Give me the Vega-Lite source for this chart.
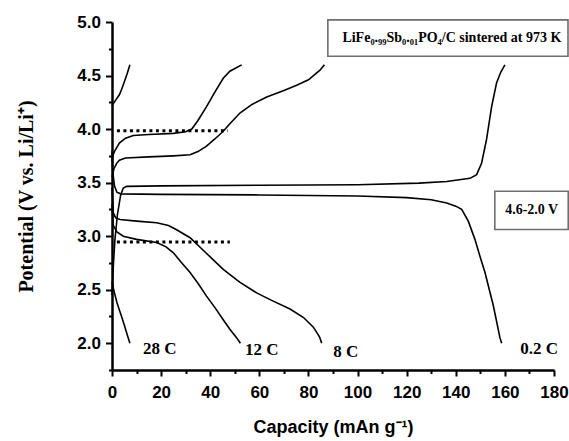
{
  "$schema": "https://vega.github.io/schema/vega-lite/v6.json",
  "width": 442,
  "height": 348,
  "autosize": "none",
  "padding": {"left": 112, "top": 22, "right": 15, "bottom": 71},
  "background": "white",
  "config": {"view": {"stroke": null}},
  "datasets": {
    "curves": [
      {"s": "c02", "i": 1, "cap": 0, "v": 2.45}, {"s": "c02", "i": 2, "cap": 0.6, "v": 2.75}, {"s": "c02", "i": 3, "cap": 1.2, "v": 2.97}, {"s": "c02", "i": 4, "cap": 2.2, "v": 3.2}, {"s": "c02", "i": 5, "cap": 3.5, "v": 3.38}, {"s": "c02", "i": 6, "cap": 4.6, "v": 3.45}, {"s": "c02", "i": 7, "cap": 6, "v": 3.465}, {"s": "c02", "i": 8, "cap": 20, "v": 3.47}, {"s": "c02", "i": 9, "cap": 60, "v": 3.475}, {"s": "c02", "i": 10, "cap": 100, "v": 3.48}, {"s": "c02", "i": 11, "cap": 125, "v": 3.495}, {"s": "c02", "i": 12, "cap": 136.3, "v": 3.51}, {"s": "c02", "i": 13, "cap": 145.8, "v": 3.54}, {"s": "c02", "i": 14, "cap": 148.5, "v": 3.575}, {"s": "c02", "i": 15, "cap": 150.5, "v": 3.68}, {"s": "c02", "i": 16, "cap": 152.5, "v": 3.9}, {"s": "c02", "i": 17, "cap": 154.6, "v": 4.21}, {"s": "c02", "i": 18, "cap": 156.6, "v": 4.43}, {"s": "c02", "i": 19, "cap": 158.3, "v": 4.53}, {"s": "c02", "i": 20, "cap": 160, "v": 4.6},
      {"s": "d02", "i": 1, "cap": 0, "v": 3.8}, {"s": "d02", "i": 2, "cap": 0.3, "v": 3.6}, {"s": "d02", "i": 3, "cap": 1, "v": 3.47}, {"s": "d02", "i": 4, "cap": 2, "v": 3.41}, {"s": "d02", "i": 5, "cap": 3.5, "v": 3.395}, {"s": "d02", "i": 6, "cap": 20, "v": 3.39}, {"s": "d02", "i": 7, "cap": 60, "v": 3.385}, {"s": "d02", "i": 8, "cap": 100, "v": 3.375}, {"s": "d02", "i": 9, "cap": 120, "v": 3.36}, {"s": "d02", "i": 10, "cap": 130, "v": 3.34}, {"s": "d02", "i": 11, "cap": 136.3, "v": 3.31}, {"s": "d02", "i": 12, "cap": 140, "v": 3.28}, {"s": "d02", "i": 13, "cap": 142.4, "v": 3.25}, {"s": "d02", "i": 14, "cap": 145.1, "v": 3.14}, {"s": "d02", "i": 15, "cap": 147.8, "v": 2.97}, {"s": "d02", "i": 16, "cap": 150, "v": 2.8}, {"s": "d02", "i": 17, "cap": 151.9, "v": 2.66}, {"s": "d02", "i": 18, "cap": 155.3, "v": 2.35}, {"s": "d02", "i": 19, "cap": 158, "v": 2.05}, {"s": "d02", "i": 20, "cap": 158.7, "v": 2.0},
      {"s": "c12", "i": 1, "cap": 0, "v": 3.7}, {"s": "c12", "i": 2, "cap": 0.5, "v": 3.76}, {"s": "c12", "i": 3, "cap": 1.2, "v": 3.8}, {"s": "c12", "i": 4, "cap": 3, "v": 3.87}, {"s": "c12", "i": 5, "cap": 5.5, "v": 3.915}, {"s": "c12", "i": 6, "cap": 8.7, "v": 3.94}, {"s": "c12", "i": 7, "cap": 15, "v": 3.95}, {"s": "c12", "i": 8, "cap": 25, "v": 3.96}, {"s": "c12", "i": 9, "cap": 30, "v": 3.975}, {"s": "c12", "i": 10, "cap": 32.5, "v": 4.0}, {"s": "c12", "i": 11, "cap": 35, "v": 4.08}, {"s": "c12", "i": 12, "cap": 38.5, "v": 4.21}, {"s": "c12", "i": 13, "cap": 42, "v": 4.35}, {"s": "c12", "i": 14, "cap": 45.3, "v": 4.475}, {"s": "c12", "i": 15, "cap": 48, "v": 4.54}, {"s": "c12", "i": 16, "cap": 52.8, "v": 4.6},
      {"s": "d12", "i": 1, "cap": 0, "v": 3.3}, {"s": "d12", "i": 2, "cap": 0.5, "v": 3.1}, {"s": "d12", "i": 3, "cap": 2, "v": 3.04}, {"s": "d12", "i": 4, "cap": 4.6, "v": 3.0}, {"s": "d12", "i": 5, "cap": 10, "v": 2.97}, {"s": "d12", "i": 6, "cap": 18.2, "v": 2.94}, {"s": "d12", "i": 7, "cap": 22, "v": 2.9}, {"s": "d12", "i": 8, "cap": 25, "v": 2.845}, {"s": "d12", "i": 9, "cap": 28, "v": 2.76}, {"s": "d12", "i": 10, "cap": 31.8, "v": 2.66}, {"s": "d12", "i": 11, "cap": 35, "v": 2.56}, {"s": "d12", "i": 12, "cap": 38.5, "v": 2.44}, {"s": "d12", "i": 13, "cap": 42, "v": 2.33}, {"s": "d12", "i": 14, "cap": 45.3, "v": 2.22}, {"s": "d12", "i": 15, "cap": 48, "v": 2.13}, {"s": "d12", "i": 16, "cap": 50.8, "v": 2.05}, {"s": "d12", "i": 17, "cap": 52.3, "v": 2.0},
      {"s": "c8", "i": 1, "cap": 0, "v": 3.55}, {"s": "c8", "i": 2, "cap": 0.8, "v": 3.63}, {"s": "c8", "i": 3, "cap": 1.9, "v": 3.68}, {"s": "c8", "i": 4, "cap": 3, "v": 3.71}, {"s": "c8", "i": 5, "cap": 5.5, "v": 3.73}, {"s": "c8", "i": 6, "cap": 15, "v": 3.74}, {"s": "c8", "i": 7, "cap": 25, "v": 3.75}, {"s": "c8", "i": 8, "cap": 31.8, "v": 3.76}, {"s": "c8", "i": 9, "cap": 35, "v": 3.79}, {"s": "c8", "i": 10, "cap": 38.5, "v": 3.84}, {"s": "c8", "i": 11, "cap": 42, "v": 3.91}, {"s": "c8", "i": 12, "cap": 45.3, "v": 3.98}, {"s": "c8", "i": 13, "cap": 48, "v": 4.05}, {"s": "c8", "i": 14, "cap": 52.1, "v": 4.15}, {"s": "c8", "i": 15, "cap": 57, "v": 4.23}, {"s": "c8", "i": 16, "cap": 63, "v": 4.3}, {"s": "c8", "i": 17, "cap": 70, "v": 4.36}, {"s": "c8", "i": 18, "cap": 75.2, "v": 4.41}, {"s": "c8", "i": 19, "cap": 80, "v": 4.46}, {"s": "c8", "i": 20, "cap": 84.7, "v": 4.55}, {"s": "c8", "i": 21, "cap": 86.5, "v": 4.6},
      {"s": "d8", "i": 1, "cap": 0, "v": 3.45}, {"s": "d8", "i": 2, "cap": 0.5, "v": 3.22}, {"s": "d8", "i": 3, "cap": 1.5, "v": 3.17}, {"s": "d8", "i": 4, "cap": 3.3, "v": 3.155}, {"s": "d8", "i": 5, "cap": 10, "v": 3.14}, {"s": "d8", "i": 6, "cap": 18.2, "v": 3.125}, {"s": "d8", "i": 7, "cap": 23, "v": 3.1}, {"s": "d8", "i": 8, "cap": 26.3, "v": 3.06}, {"s": "d8", "i": 9, "cap": 31.8, "v": 2.985}, {"s": "d8", "i": 10, "cap": 38, "v": 2.85}, {"s": "d8", "i": 11, "cap": 45.3, "v": 2.69}, {"s": "d8", "i": 12, "cap": 52, "v": 2.57}, {"s": "d8", "i": 13, "cap": 58.9, "v": 2.47}, {"s": "d8", "i": 14, "cap": 65, "v": 2.4}, {"s": "d8", "i": 15, "cap": 72.5, "v": 2.32}, {"s": "d8", "i": 16, "cap": 78, "v": 2.24}, {"s": "d8", "i": 17, "cap": 82, "v": 2.15}, {"s": "d8", "i": 18, "cap": 84.5, "v": 2.06}, {"s": "d8", "i": 19, "cap": 85.4, "v": 2.0},
      {"s": "c28", "i": 1, "cap": 0, "v": 4.22}, {"s": "c28", "i": 2, "cap": 1.5, "v": 4.27}, {"s": "c28", "i": 3, "cap": 3, "v": 4.32}, {"s": "c28", "i": 4, "cap": 3.9, "v": 4.37}, {"s": "c28", "i": 5, "cap": 5, "v": 4.44}, {"s": "c28", "i": 6, "cap": 6.2, "v": 4.52}, {"s": "c28", "i": 7, "cap": 7.3, "v": 4.6},
      {"s": "d28", "i": 1, "cap": 0, "v": 2.57}, {"s": "d28", "i": 2, "cap": 1, "v": 2.47}, {"s": "d28", "i": 3, "cap": 2, "v": 2.38}, {"s": "d28", "i": 4, "cap": 3, "v": 2.31}, {"s": "d28", "i": 5, "cap": 3.9, "v": 2.25}, {"s": "d28", "i": 6, "cap": 5, "v": 2.17}, {"s": "d28", "i": 7, "cap": 6.2, "v": 2.08}, {"s": "d28", "i": 8, "cap": 7.3, "v": 2.0}
    ],
    "dots": [
      {"s": "up", "cap": 2.0, "v": 3.985}, {"s": "up", "cap": 47.2, "v": 3.985},
      {"s": "lo", "cap": 2.0, "v": 2.945}, {"s": "lo", "cap": 48, "v": 2.945}
    ],
    "labels": [
      {"t": "28 C", "cap": 19.5, "v": 1.95},
      {"t": "12 C", "cap": 61, "v": 1.94},
      {"t": "8 C", "cap": 95.2, "v": 1.915},
      {"t": "0.2 C", "cap": 173.9, "v": 1.944}
    ],
    "boxes": [
      {"t": "LiFe₀.₉₉Sb₀.₀₁PO₄/C sintered at 973 K", "cap": 87.9, "cap2": 185.7, "v": 4.68, "v2": 5.02, "tc": 138.4, "tv": 4.846},
      {"t": "4.6-2.0 V", "cap": 155.9, "cap2": 185.8, "v": 3.062, "v2": 3.419, "tc": 170.9, "tv": 3.24}
    ]
  },
  "encoding": {
    "x": {
      "type": "quantitative",
      "title": "Capacity (mAn g⁻¹)",
      "scale": {"domain": [0, 180], "nice": false, "zero": false},
      "axis": {
        "values": [0, 10, 20, 30, 40, 50, 60, 70, 80, 90, 100, 110, 120, 130, 140, 150, 160, 170, 180],
        "labelExpr": "datum.value % 20 === 0 ? datum.label : ''",
        "tickSize": {"condition": {"test": "datum.value % 20 !== 0", "value": 3.5}, "value": 6},
        "grid": false,
        "domainColor": "black", "domainWidth": 2.5,
        "tickColor": "black", "tickWidth": 2,
        "labelFont": "Liberation Sans", "labelFontWeight": "bold", "labelFontSize": 17, "labelColor": "black",
        "labelPadding": 8, "labelFlush": false, "labelOverlap": false,
        "titleFont": "Liberation Sans", "titleFontWeight": "bold", "titleFontSize": 18, "titleColor": "black",
        "titlePadding": 18
      }
    },
    "y": {
      "type": "quantitative",
      "title": "Potential (V vs. Li/Li⁺)",
      "scale": {"domain": [1.75, 5.0], "nice": false, "zero": false},
      "axis": {
        "values": [1.75, 2, 2.25, 2.5, 2.75, 3, 3.25, 3.5, 3.75, 4, 4.25, 4.5, 4.75, 5],
        "labelExpr": "datum.value % 0.5 === 0 ? format(datum.value, '.1f') : ''",
        "tickSize": {"condition": {"test": "datum.value % 0.5 !== 0", "value": 3.5}, "value": 6.5},
        "grid": false,
        "domainColor": "black", "domainWidth": 2.5,
        "tickColor": "black", "tickWidth": 2,
        "labelFont": "Liberation Sans", "labelFontWeight": "bold", "labelFontSize": 17, "labelColor": "black",
        "labelPadding": 5, "labelFlush": false, "labelOverlap": false,
        "titleFont": "Liberation Serif", "titleFontWeight": "bold", "titleFontSize": 20, "titleColor": "black",
        "titlePadding": 40
      }
    }
  },
  "layer": [
    {
      "data": {"name": "curves"},
      "mark": {"type": "line", "color": "black", "strokeWidth": 1.6},
      "encoding": {
        "x": {"field": "cap"},
        "y": {"field": "v"},
        "detail": {"field": "s"},
        "order": {"field": "i", "type": "quantitative"}
      }
    },
    {
      "data": {"name": "dots"},
      "mark": {"type": "line", "color": "black", "strokeWidth": 3, "strokeDash": [3, 3.5], "strokeCap": "butt"},
      "encoding": {
        "x": {"field": "cap"},
        "y": {"field": "v"},
        "detail": {"field": "s"}
      }
    },
    {
      "data": {"name": "boxes"},
      "mark": {"type": "rect", "fill": "white", "stroke": "#6e6e6e", "strokeWidth": 1.6},
      "encoding": {
        "x": {"field": "cap"},
        "x2": {"field": "cap2"},
        "y": {"field": "v"},
        "y2": {"field": "v2"}
      }
    },
    {
      "data": {"name": "boxes"},
      "mark": {"type": "text", "font": "Liberation Serif", "fontWeight": "bold", "fontSize": 14, "color": "black", "align": "center", "baseline": "middle"},
      "encoding": {
        "x": {"field": "tc"},
        "y": {"field": "tv"},
        "text": {"field": "t"}
      }
    },
    {
      "data": {"name": "labels"},
      "mark": {"type": "text", "font": "Liberation Serif", "fontWeight": "bold", "fontSize": 17, "color": "black", "align": "center", "baseline": "middle"},
      "encoding": {
        "x": {"field": "cap"},
        "y": {"field": "v"},
        "text": {"field": "t"}
      }
    }
  ]
}
